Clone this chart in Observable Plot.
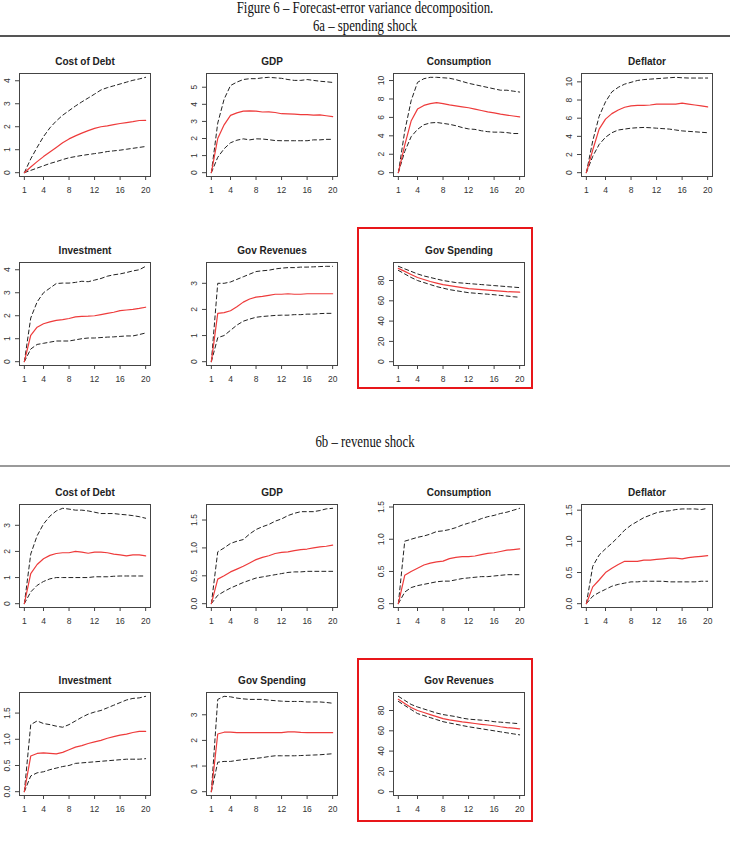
<!DOCTYPE html>
<html><head><meta charset="utf-8">
<script src="https://cdn.jsdelivr.net/npm/d3@7"></script>
<script src="https://cdn.jsdelivr.net/npm/@observablehq/plot@0.6"></script>
<style>
body{margin:0;background:#fff;}
#page{position:relative;width:730px;height:853px;overflow:hidden;background:#fff;}
.hdr{position:absolute;left:0;width:730px;text-align:center;font-family:"Liberation Serif","Times New Roman",serif;font-size:12.8px;line-height:12.8px;color:#111;transform:scaleY(1.25);transform-origin:50% 10.7px;white-space:nowrap;}
.rule{position:absolute;left:0;width:730px;}
.redbox{position:absolute;border:2.5px solid #e8161a;box-sizing:border-box;}
.panel{position:absolute;}
</style></head><body><div id="page"></div>
<script>
const periods = d3.range(1, 21);
const xTicks = [1, 4, 8, 12, 16, 20];
const mainTitle = "Figure 6 – Forecast-error variance decomposition.";
const subA = "6a – spending shock";
const subB = "6b – revenue shock";

// ---- 6a spending shock ----
const a_debt_hi = [0,0.6,1.1,1.57,1.95,2.25,2.5,2.7,2.9,3.08,3.25,3.42,3.6,3.7,3.78,3.86,3.94,4.02,4.08,4.15];
const a_debt_md = [0,0.25,0.48,0.7,0.9,1.1,1.3,1.47,1.6,1.72,1.83,1.93,2.0,2.04,2.09,2.14,2.18,2.22,2.27,2.28];
const a_debt_lo = [0,0.1,0.2,0.3,0.4,0.48,0.57,0.65,0.7,0.75,0.79,0.83,0.87,0.92,0.95,0.98,1.02,1.06,1.1,1.14];
const a_debt_ticks = [0,1,2,3,4];

const a_gdp_hi = [0,2.9,4.3,5.1,5.3,5.45,5.5,5.5,5.55,5.58,5.55,5.52,5.45,5.4,5.4,5.45,5.4,5.35,5.32,5.28];
const a_gdp_md = [0,2.0,2.8,3.35,3.5,3.6,3.62,3.6,3.55,3.56,3.52,3.45,3.44,3.43,3.4,3.4,3.37,3.38,3.33,3.28];
const a_gdp_lo = [0,0.9,1.4,1.75,1.9,1.98,1.92,1.98,1.97,1.93,1.88,1.87,1.87,1.87,1.87,1.87,1.92,1.92,1.95,1.95];
const a_gdp_ticks = [0,1,2,3,4,5];

const a_cons_hi = [0,4.5,7.8,9.8,10.2,10.35,10.35,10.3,10.25,10.1,9.9,9.7,9.55,9.4,9.25,9.1,8.95,8.95,8.85,8.75];
const a_cons_md = [0,3.0,5.6,6.9,7.3,7.5,7.6,7.5,7.35,7.25,7.15,7.05,6.9,6.75,6.6,6.5,6.35,6.25,6.15,6.05];
const a_cons_lo = [0,2.3,3.9,4.7,5.2,5.4,5.45,5.35,5.25,5.1,4.9,4.75,4.7,4.55,4.45,4.4,4.4,4.35,4.25,4.25];
const a_cons_ticks = [0,2,4,6,8,10];

const a_defl_hi = [0,3.5,6.2,7.8,8.9,9.4,9.75,9.95,10.15,10.25,10.3,10.35,10.4,10.45,10.5,10.45,10.42,10.42,10.42,10.42];
const a_defl_md = [0,2.5,4.8,5.9,6.5,6.9,7.2,7.35,7.4,7.4,7.45,7.55,7.55,7.55,7.55,7.65,7.55,7.45,7.35,7.25];
const a_defl_lo = [0,1.8,3.1,3.9,4.4,4.7,4.8,4.9,4.95,4.98,4.95,4.9,4.85,4.8,4.7,4.6,4.55,4.5,4.45,4.4];
const a_defl_ticks = [0,2,4,6,8,10];

const a_inv_hi = [0,1.9,2.6,3.0,3.2,3.4,3.42,3.42,3.45,3.5,3.48,3.55,3.62,3.72,3.78,3.82,3.88,3.95,4.0,4.15];
const a_inv_md = [0,1.15,1.5,1.65,1.73,1.8,1.83,1.88,1.95,1.97,1.98,2.0,2.05,2.1,2.15,2.22,2.25,2.28,2.32,2.37];
const a_inv_lo = [0,0.55,0.75,0.8,0.85,0.9,0.9,0.9,0.95,1.0,1.03,1.03,1.05,1.07,1.08,1.1,1.12,1.12,1.18,1.25];
const a_inv_ticks = [0,1,2,3,4];

const a_rev_hi = [0,3.0,3.0,3.05,3.15,3.25,3.35,3.45,3.48,3.5,3.55,3.58,3.6,3.6,3.62,3.62,3.63,3.64,3.65,3.65];
const a_rev_md = [0,1.85,1.88,1.95,2.1,2.28,2.4,2.47,2.5,2.54,2.58,2.58,2.6,2.58,2.58,2.6,2.6,2.6,2.6,2.6];
const a_rev_lo = [0,0.92,1.0,1.2,1.4,1.55,1.63,1.7,1.73,1.75,1.77,1.78,1.78,1.8,1.8,1.82,1.82,1.84,1.85,1.85];
const a_rev_ticks = [0,1,2,3];

const a_spend_hi = [94,91.5,89,86.5,84.5,83,81.5,80,79,78,77.5,77,76.5,76,75.5,75,74.5,74,73.5,73];
const a_spend_md = [92,89,86,83,81,79,77.5,76,75,74,73,72,71.5,71,70.5,70,69.5,69,68.8,68.5];
const a_spend_lo = [90,86.5,83,80,78,76,74,72.5,71,70,69,68,67.5,67,66.5,66,65.3,64.7,64,63.5];
const a_spend_ticks = [0,20,40,60,80];

// ---- 6b revenue shock ----
const b_debt_hi = [0,1.9,2.6,3.05,3.35,3.55,3.65,3.62,3.58,3.58,3.55,3.5,3.45,3.45,3.45,3.42,3.4,3.37,3.33,3.27];
const b_debt_md = [0,1.15,1.5,1.72,1.85,1.92,1.95,1.95,2.0,1.97,1.93,1.97,1.97,1.95,1.9,1.87,1.83,1.87,1.87,1.83];
const b_debt_lo = [0,0.45,0.7,0.85,0.95,1.0,1.0,1.0,1.0,1.0,1.0,1.03,1.03,1.03,1.05,1.06,1.06,1.06,1.06,1.06];
const b_debt_ticks = [0,1,2,3];

const b_gdp_hi = [0,0.93,1.0,1.08,1.12,1.15,1.25,1.33,1.38,1.42,1.48,1.52,1.58,1.62,1.65,1.65,1.65,1.67,1.7,1.71];
const b_gdp_md = [0,0.44,0.5,0.57,0.62,0.67,0.73,0.79,0.83,0.86,0.9,0.92,0.93,0.95,0.97,0.98,1.0,1.02,1.03,1.05];
const b_gdp_lo = [0,0.15,0.22,0.28,0.33,0.38,0.42,0.46,0.48,0.5,0.52,0.54,0.56,0.57,0.57,0.58,0.58,0.58,0.58,0.58];
const b_gdp_ticks = [0,0.5,1.0,1.5];

const b_cons_hi = [0,0.97,1.0,1.03,1.05,1.08,1.12,1.13,1.15,1.18,1.22,1.25,1.28,1.32,1.35,1.37,1.4,1.42,1.45,1.48];
const b_cons_md = [0,0.44,0.5,0.55,0.6,0.63,0.65,0.66,0.7,0.72,0.73,0.73,0.74,0.76,0.78,0.79,0.81,0.83,0.84,0.85];
const b_cons_lo = [0,0.18,0.25,0.28,0.3,0.32,0.34,0.35,0.35,0.37,0.39,0.4,0.41,0.42,0.42,0.43,0.44,0.45,0.45,0.45];
const b_cons_ticks = [0,0.5,1.0,1.5];

const b_defl_hi = [0,0.6,0.78,0.88,0.97,1.07,1.18,1.26,1.32,1.38,1.42,1.46,1.48,1.49,1.51,1.52,1.52,1.52,1.51,1.53];
const b_defl_md = [0,0.27,0.38,0.5,0.57,0.63,0.68,0.68,0.68,0.7,0.7,0.71,0.72,0.73,0.73,0.72,0.74,0.75,0.76,0.77];
const b_defl_lo = [0,0.12,0.18,0.23,0.28,0.31,0.33,0.35,0.35,0.36,0.36,0.36,0.36,0.35,0.35,0.35,0.35,0.35,0.36,0.36];
const b_defl_ticks = [0,0.5,1.0,1.5];

const b_inv_hi = [0,1.28,1.35,1.3,1.28,1.25,1.23,1.28,1.35,1.42,1.48,1.52,1.55,1.6,1.65,1.7,1.75,1.78,1.79,1.82];
const b_inv_md = [0,0.68,0.73,0.74,0.73,0.72,0.75,0.8,0.85,0.88,0.92,0.95,0.98,1.02,1.05,1.08,1.1,1.13,1.15,1.15];
const b_inv_lo = [0,0.3,0.36,0.38,0.42,0.45,0.48,0.5,0.54,0.55,0.56,0.57,0.58,0.59,0.6,0.61,0.62,0.62,0.62,0.63];
const b_inv_ticks = [0,0.5,1.0,1.5];

const b_spend_hi = [0,3.6,3.72,3.7,3.65,3.62,3.6,3.6,3.6,3.57,3.55,3.53,3.52,3.52,3.52,3.5,3.5,3.5,3.48,3.45];
const b_spend_md = [0,2.25,2.32,2.32,2.3,2.3,2.3,2.3,2.3,2.3,2.3,2.3,2.33,2.33,2.31,2.3,2.3,2.3,2.3,2.3];
const b_spend_lo = [0,1.15,1.18,1.18,1.22,1.25,1.28,1.3,1.33,1.37,1.4,1.4,1.4,1.4,1.41,1.42,1.43,1.44,1.46,1.48];
const b_spend_ticks = [0,1,2,3];

const b_rev_hi = [94,90,86,83.5,81.5,79.5,77.5,76,75,74,72.5,71.5,71,70.5,70,69,68.5,68,67.5,67];
const b_rev_md = [91,87,83,80,78,76,74,72,70.8,69.8,68.8,68,67.2,66.4,65.7,65,64,63.2,62.6,62];
const b_rev_lo = [89,85,81,77,75,73,71,69,67.7,66.5,65.2,64,63,62,61,60,59,58,57,56];
const b_rev_ticks = [0,20,40,60,80];

const f1 = d3.format(".1f");
const fInt = d => String(d);

// layout
const colL = [19, 206, 393, 581];
const rowT = [73, 262, 504, 692];
const BW = 131, BH = 103;
const ML = 24, MR = 4, MT = 26, MB = 28;

const panels = [
  {title:"Cost of Debt", hi:a_debt_hi, md:a_debt_md, lo:a_debt_lo, ticks:a_debt_ticks, fmt:fInt, c:0, r:0},
  {title:"GDP", hi:a_gdp_hi, md:a_gdp_md, lo:a_gdp_lo, ticks:a_gdp_ticks, fmt:fInt, c:1, r:0},
  {title:"Consumption", hi:a_cons_hi, md:a_cons_md, lo:a_cons_lo, ticks:a_cons_ticks, fmt:fInt, c:2, r:0},
  {title:"Deflator", hi:a_defl_hi, md:a_defl_md, lo:a_defl_lo, ticks:a_defl_ticks, fmt:fInt, c:3, r:0},
  {title:"Investment", hi:a_inv_hi, md:a_inv_md, lo:a_inv_lo, ticks:a_inv_ticks, fmt:fInt, c:0, r:1},
  {title:"Gov Revenues", hi:a_rev_hi, md:a_rev_md, lo:a_rev_lo, ticks:a_rev_ticks, fmt:fInt, c:1, r:1},
  {title:"Gov Spending", hi:a_spend_hi, md:a_spend_md, lo:a_spend_lo, ticks:a_spend_ticks, fmt:fInt, c:2, r:1},
  {title:"Cost of Debt", hi:b_debt_hi, md:b_debt_md, lo:b_debt_lo, ticks:b_debt_ticks, fmt:fInt, c:0, r:2},
  {title:"GDP", hi:b_gdp_hi, md:b_gdp_md, lo:b_gdp_lo, ticks:b_gdp_ticks, fmt:f1, c:1, r:2},
  {title:"Consumption", hi:b_cons_hi, md:b_cons_md, lo:b_cons_lo, ticks:b_cons_ticks, fmt:f1, c:2, r:2},
  {title:"Deflator", hi:b_defl_hi, md:b_defl_md, lo:b_defl_lo, ticks:b_defl_ticks, fmt:f1, c:3, r:2},
  {title:"Investment", hi:b_inv_hi, md:b_inv_md, lo:b_inv_lo, ticks:b_inv_ticks, fmt:f1, c:0, r:3},
  {title:"Gov Spending", hi:b_spend_hi, md:b_spend_md, lo:b_spend_lo, ticks:b_spend_ticks, fmt:fInt, c:1, r:3},
  {title:"Gov Revenues", hi:b_rev_hi, md:b_rev_md, lo:b_rev_lo, ticks:b_rev_ticks, fmt:fInt, c:2, r:3}
];

function rows(arr) { return periods.map((t, i) => ({t, v: arr[i]})); }

function makePanel(p) {
  const ymax = d3.max([...p.hi, ...p.md, ...p.lo]);
  const ymin = 0;
  const rr = ymax - ymin;
  return Plot.plot({
    width: BW + ML + MR, height: BH + MT + MB,
    marginLeft: ML, marginRight: MR, marginTop: MT, marginBottom: MB,
    style: {fontFamily: "'Liberation Sans', Arial, sans-serif", fontSize: "8.5px", color: "#333", background: "transparent", overflow: "visible"},
    x: {domain: [1 - 0.04 * 19, 20 + 0.04 * 19]},
    y: {domain: [ymin - 0.04 * rr, ymax + 0.04 * rr]},
    marks: [
      Plot.frame({stroke: "#444", strokeWidth: 1}),
      Plot.axisX({ticks: xTicks, tickSize: 4, tickPadding: 6, tickFormat: fInt, label: null, stroke: "#444"}),
      Plot.axisY({ticks: p.ticks, tickSize: 4, tickPadding: 6, tickRotate: -90, tickFormat: p.fmt, label: null, stroke: "#444"}),
      Plot.line(rows(p.hi), {x: "t", y: "v", stroke: "#222", strokeWidth: 1, strokeDasharray: "4,3"}),
      Plot.line(rows(p.lo), {x: "t", y: "v", stroke: "#222", strokeWidth: 1, strokeDasharray: "4,3"}),
      Plot.line(rows(p.md), {x: "t", y: "v", stroke: "#ee3b3b", strokeWidth: 1.2}),
      Plot.text([p.title], {text: d => d, frameAnchor: "top", lineAnchor: "bottom", dy: -9, fontWeight: "bold", fontSize: 10, fill: "#222"})
    ]
  });
}

const page = document.getElementById("page");
function addDiv(cls, css, text) {
  const d = document.createElement("div");
  d.className = cls;
  Object.assign(d.style, css);
  if (text) d.textContent = text;
  page.appendChild(d);
  return d;
}
addDiv("hdr", {top: "2.8px"}, mainTitle);
addDiv("hdr", {top: "20.8px"}, subA);
addDiv("rule", {top: "35px", height: "1.6px", background: "#555"});
addDiv("hdr", {top: "437.3px"}, subB);
addDiv("rule", {top: "465px", height: "2px", background: "#9a9a9a"});
addDiv("redbox", {left: "357px", top: "227px", width: "176px", height: "162px"});
addDiv("redbox", {left: "357px", top: "658px", width: "176px", height: "164px"});

for (const p of panels) {
  const holder = addDiv("panel", {left: (colL[p.c] - ML) + "px", top: (rowT[p.r] - MT) + "px"});
  holder.appendChild(makePanel(p));
}
</script>
</body></html>
